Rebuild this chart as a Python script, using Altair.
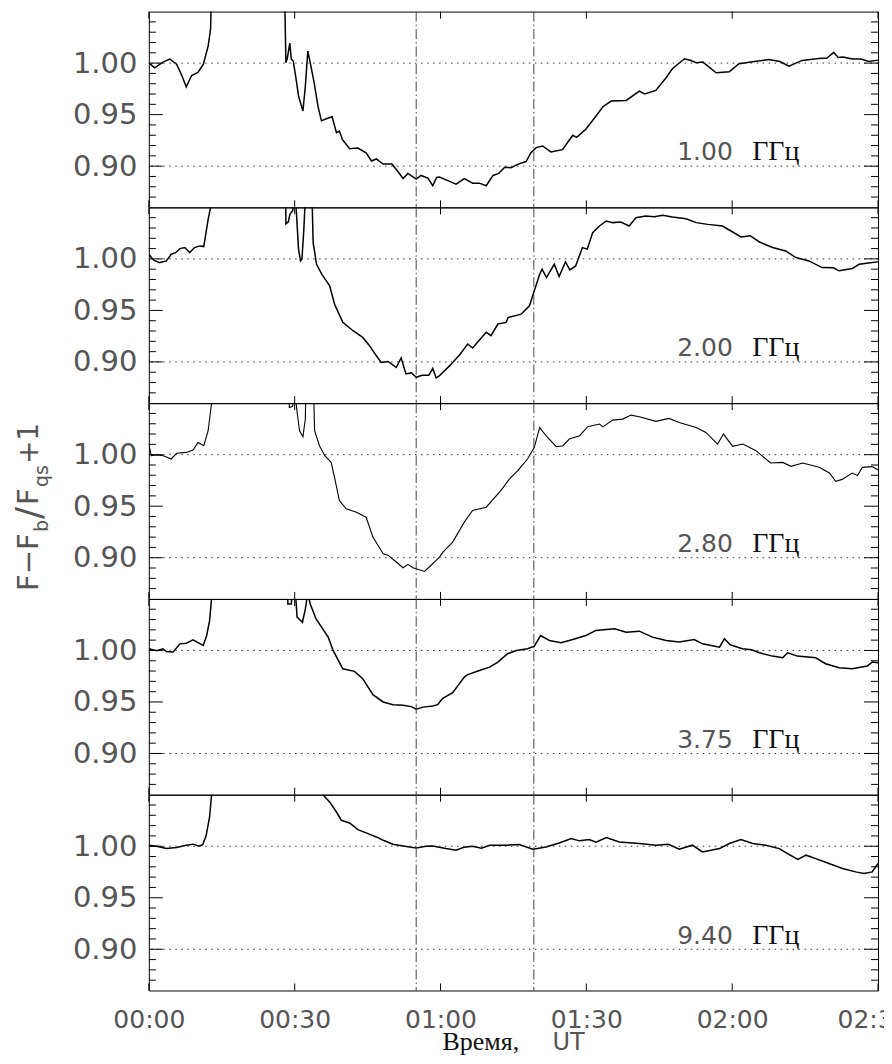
import altair as alt
import pandas as pd

# ---------------- data ----------------
freq_labels = ["1.00", "2.00", "2.80", "3.75", "9.40"]
unit_label = "ГГц"
y_major = [0.90, 0.95, 1.00]
y_minor = [0.87, 0.88, 0.89, 0.91, 0.92, 0.93, 0.94, 0.96, 0.97, 0.98, 0.99,
           1.01, 1.02, 1.03, 1.04]
x_ticks = [0, 30, 60, 90, 120, 150]          # minutes after 00:00 UT
ref_levels = [0.90, 1.00]
event_times = [55.0, 79.2]

# (minutes, F-Fb/Fqs+1); values above 1.05 are off-panel (flare)
s100 = [(0, 1.0003), (1.2, 0.9955), (2.9, 1.001), (4.3, 1.004), (5.7, 0.999), (6.7, 0.989),
        (7.7, 0.977), (8.8, 0.988), (10.1, 0.991), (11.2, 0.9987), (12.2, 1.0165), (12.7, 1.033),
        (13.3, 1.15), (27.6, 1.15), (28.2, 1.0003), (28.5, 1.005), (29.0, 1.0195), (29.3, 1.004),
        (29.7, 1.002), (30.2, 0.9874), (30.8, 0.968), (31.7, 0.9535), (32.2, 0.978), (32.7, 1.0116),
        (33.3, 0.998), (34.0, 0.981), (34.8, 0.958), (35.5, 0.944), (36.5, 0.946), (37.7, 0.948),
        (38.6, 0.9325), (39.2, 0.934), (39.8, 0.926), (41.3, 0.917), (43.0, 0.9175), (44.7, 0.913),
        (45.8, 0.905), (46.8, 0.907), (48.2, 0.902), (50.0, 0.902), (51.2, 0.895), (52.3, 0.888),
        (53.3, 0.893), (55.0, 0.8874), (56.0, 0.891), (57.4, 0.8885), (58.4, 0.881), (59.2, 0.889),
        (59.8, 0.8895), (61.5, 0.886), (63.2, 0.8825), (64.9, 0.888), (66.6, 0.8835), (68.0, 0.8835),
        (69.4, 0.881), (70.8, 0.891), (72.0, 0.893), (73.2, 0.899), (74.5, 0.8985), (76.0, 0.902),
        (77.6, 0.9045), (78.6, 0.913), (79.7, 0.918), (81.0, 0.9196), (82.7, 0.9138), (85.1, 0.916),
        (87.2, 0.930), (88.0, 0.928), (89.9, 0.9358), (92.0, 0.9487), (93.4, 0.9577), (95.1, 0.9632),
        (98.2, 0.9638), (100.9, 0.9729), (102.0, 0.970), (104.3, 0.9735), (106.4, 0.9858),
        (107.7, 0.9945), (110.2, 1.0042), (111.5, 1.0025), (112.6, 1.0003), (114.0, 1.001),
        (116.7, 0.9906), (119.4, 0.9916), (121.4, 0.9994), (124.2, 1.0013), (127.6, 1.0036),
        (129.8, 1.0015), (131.7, 0.997), (134.4, 1.0026), (137.8, 1.0045), (139.5, 1.005),
        (140.9, 1.0104), (141.8, 1.0055), (142.8, 1.006), (144.7, 1.0039), (146.5, 1.004),
        (148.1, 1.0016), (150, 1.0029)]

s200 = [(0, 1.0045), (1.0, 0.9987), (2.2, 0.9964), (3.6, 0.998), (4.6, 1.0045), (5.5, 1.006),
        (6.4, 1.010), (7.4, 1.011), (8.4, 1.0061), (9.4, 1.011), (10.5, 1.0126), (11.3, 1.012),
        (12.2, 1.0384), (12.7, 1.05), (13.1, 1.15), (27.9, 1.15), (28.2, 1.034), (28.7, 1.036),
        (29.0, 1.043), (29.6, 1.047), (30.0, 1.08), (30.3, 1.05), (30.8, 1.009), (31.2, 0.998),
        (31.5, 1.0), (31.9, 1.03), (32.3, 1.07), (32.5, 1.15), (33.1, 1.15), (33.8, 1.0158),
        (34.5, 0.9948), (35.6, 0.985), (37.2, 0.9738), (38.2, 0.9561), (39.9, 0.9384), (42.0, 0.9303),
        (44.0, 0.9238), (45.4, 0.9158), (46.4, 0.9087), (47.8, 0.8996), (49.2, 0.9005), (50.9, 0.8948),
        (51.9, 0.9038), (52.9, 0.8883), (54.0, 0.8895), (55.0, 0.8851), (56.2, 0.887), (57.6, 0.887),
        (58.4, 0.8938), (59.1, 0.8845), (59.8, 0.8867), (61.9, 0.8964), (63.9, 0.9067), (65.6, 0.9174),
        (66.6, 0.9135), (69.4, 0.9287), (70.4, 0.9255), (71.8, 0.9368), (73.5, 0.9384), (73.9, 0.9432),
        (76.6, 0.9464), (78.3, 0.9545), (79.3, 0.969), (80.4, 0.9851), (80.9, 0.99), (81.8, 0.9819),
        (83.4, 0.9948), (84.4, 0.9829), (85.7, 0.9971), (86.6, 0.9893), (87.8, 0.9932), (89.2, 1.011),
        (90.2, 1.0095), (91.3, 1.0255), (92.7, 1.0319), (94.1, 1.0368), (95.4, 1.0352), (97.1, 1.0358),
        (98.8, 1.0319), (100.2, 1.04), (102.2, 1.0416), (104.0, 1.041), (105.7, 1.0423),
        (107.7, 1.0406), (110.5, 1.039), (112.6, 1.0352), (115.0, 1.0335), (118.0, 1.0319),
        (120.1, 1.0261), (121.8, 1.0213), (123.7, 1.0225), (125.6, 1.0164), (128.3, 1.011),
        (131.0, 1.0077), (133.1, 1.0013), (135.8, 0.998), (138.5, 0.9916), (140.8, 0.9913),
        (142.0, 0.9884), (144.7, 0.9906), (146.1, 0.9948), (148.8, 0.9964), (150, 0.9971)]

s280 = [(0, 1.0103), (0.5, 0.999), (1.6, 0.9997), (3.0, 0.999), (4.6, 0.9958), (5.7, 1.0013),
        (7.7, 1.0022), (9.1, 1.0045), (10.1, 1.0119), (11.3, 1.0087), (12.2, 1.0232), (12.9, 1.05),
        (13.2, 1.15), (28.5, 1.15), (28.9, 1.0458), (29.6, 1.047), (30.0, 1.07), (30.4, 1.045),
        (31.0, 1.0232), (31.7, 1.0174), (32.2, 1.035), (32.5, 1.15), (33.4, 1.15), (34.1, 1.0232),
        (35.1, 1.0087), (36.2, 0.999), (37.5, 0.9926), (38.2, 0.978), (39.2, 0.9555), (40.6, 0.9474),
        (42.7, 0.9442), (44.7, 0.9393), (46.1, 0.92), (48.2, 0.9038), (49.2, 0.9025), (50.9, 0.8958),
        (52.3, 0.8903), (53.3, 0.8935), (54.3, 0.8903), (55.0, 0.8893), (56.7, 0.8867), (57.7, 0.891),
        (59.1, 0.8974), (59.8, 0.9006), (60.5, 0.9054), (62.5, 0.9151), (64.9, 0.9345), (66.6, 0.9458),
        (69.4, 0.949), (72.4, 0.9651), (74.2, 0.9764), (75.9, 0.9845), (77.9, 0.9958), (79.3, 1.0071),
        (80.4, 1.0265), (81.7, 1.0184), (83.8, 1.0077), (85.2, 1.0087), (86.5, 1.0152), (88.6, 1.0184),
        (90.3, 1.0271), (92.7, 1.0297), (93.4, 1.027), (95.4, 1.0335), (97.5, 1.0345), (99.2, 1.0384),
        (100.9, 1.0368), (104.3, 1.0323), (107.0, 1.0352), (109.1, 1.0313), (112.6, 1.0264),
        (114.6, 1.0216), (117.0, 1.0103), (118.2, 1.02), (120.1, 1.0081), (122.2, 1.0103),
        (124.9, 1.0039), (127.9, 0.9919), (130.4, 0.9925), (132.1, 0.9887), (134.5, 0.9919),
        (137.9, 0.9877), (140.0, 0.9822), (141.3, 0.9742), (142.6, 0.976), (144.7, 0.9822),
        (145.8, 0.9797), (146.8, 0.9877), (148.8, 0.9884), (150, 0.9851)]

s375 = [(0, 1.0016), (1.6, 0.9997), (2.9, 1.0016), (3.6, 0.999), (5.0, 0.9984), (6.4, 1.0064),
        (7.7, 1.007), (9.1, 1.0103), (10.2, 1.0074), (11.2, 1.0048), (11.9, 1.0145), (12.5, 1.029),
        (12.9, 1.05), (13.2, 1.15), (28.3, 1.15), (28.6, 1.045), (29.3, 1.045), (29.8, 1.07),
        (30.1, 1.06), (30.5, 1.0323), (31.6, 1.0274), (32.2, 1.0403), (32.7, 1.056), (33.2, 1.045),
        (34.4, 1.0306), (36.9, 1.0129), (37.9, 1.0), (39.9, 0.9822), (42.3, 0.9797), (44.0, 0.9726),
        (46.1, 0.9571), (48.2, 0.95), (50.2, 0.9474), (52.3, 0.9467), (54.0, 0.9455), (55.0, 0.9429),
        (56.4, 0.945), (58.4, 0.9461), (59.4, 0.9474), (60.4, 0.9532), (62.5, 0.959), (64.9, 0.9742),
        (65.6, 0.9765), (68.0, 0.9806), (70.1, 0.9838), (71.8, 0.9887), (73.8, 0.9968), (75.6, 1.0),
        (77.9, 1.0016), (79.3, 1.0042), (80.6, 1.0145), (82.4, 1.0097), (84.8, 1.0074), (87.2, 1.0106),
        (89.9, 1.0145), (92.0, 1.0194), (94.1, 1.0203), (95.8, 1.021), (98.2, 1.0177), (100.9, 1.0187),
        (103.6, 1.0129), (106.4, 1.0097), (109.1, 1.0081), (112.2, 1.0106), (113.9, 1.0064),
        (117.4, 1.0032), (118.4, 1.0113), (119.6, 1.0055), (122.1, 1.0016), (124.0, 1.0006),
        (125.6, 0.9977), (128.3, 0.9945), (130.4, 0.9929), (131.4, 0.9977), (133.4, 0.9945),
        (137.2, 0.9929), (139.2, 0.9871), (142.0, 0.9832), (144.7, 0.9823), (147.8, 0.9848),
        (148.8, 0.9887), (150, 0.988)]

s940 = [(0, 1.001), (1.6, 1.0), (3.6, 0.9977), (5.7, 0.9987), (7.7, 1.001), (9.1, 1.002),
        (10.3, 1.0), (11.1, 1.0016), (11.8, 1.0106), (12.5, 1.0284), (12.9, 1.05), (13.2, 1.15),
        (35.5, 1.15), (35.8, 1.05), (37.2, 1.0429), (38.6, 1.0332), (39.6, 1.0252), (41.3, 1.0226),
        (43.0, 1.0161), (44.7, 1.0129), (46.8, 1.009), (48.2, 1.0058), (50.2, 1.0019), (52.3, 1.0003),
        (55.0, 0.9984), (57.0, 1.0), (58.4, 1.0003), (61.1, 0.9977), (63.2, 0.9961), (64.8, 0.999),
        (66.6, 1.0), (68.4, 0.998), (70.1, 1.001), (73.5, 1.001), (76.2, 1.0016), (79.0, 0.9971),
        (81.7, 0.9993), (84.4, 1.0032), (86.9, 1.0074), (88.6, 1.0052), (90.6, 1.0064), (92.0, 1.004),
        (94.1, 1.0084), (96.8, 1.0042), (100.9, 1.0026), (104.3, 1.001), (106.9, 1.0019),
        (109.1, 0.9971), (111.8, 1.001), (113.9, 0.9945), (117.4, 0.9977), (119.4, 1.0026),
        (121.8, 1.0064), (124.2, 1.0026), (126.9, 1.001), (129.7, 0.9977), (131.4, 0.9929),
        (133.5, 0.9871), (135.2, 0.9913), (137.2, 0.988), (139.9, 0.9832), (142.7, 0.9784),
        (145.4, 0.9751), (147.1, 0.9735), (148.8, 0.9751), (150, 0.9832)]

series = [s100, s200, s280, s375, s940]

y_title_parts = ["F−F", "b", "/", "F", "qs", "+1"]
x_title_parts = ["Время,", "UT"]

# ---------------- styling / layout ----------------
W, H = 730, 196
SANS = "DejaVu Sans"
SERIF = "Liberation Serif"
GREY = "#555555"
line_widths = [1.5, 1.5, 1.1, 1.5, 1.5]

xscale = alt.Scale(domain=[0, 150], nice=False, zero=False)
yscale = alt.Scale(domain=[0.86, 1.05], nice=False, zero=False)

x_label_expr = "'0' + floor(datum.value / 60) + ':' + (datum.value % 60 == 0 ? '00' : datum.value % 60)"


def one_row(**kw):
    return pd.DataFrame({k: [v] for k, v in kw.items()})


def panel(i):
    bottom = i == len(series) - 1
    df = pd.DataFrame(series[i], columns=["t", "v"])
    if bottom:
        xaxis = alt.Axis(values=x_ticks, labelExpr=x_label_expr, ticks=False, domain=False,
                         grid=False, labelPadding=17, labelFontSize=25, labelFont=SANS,
                         labelColor=GREY, labelFlush=False, labelOverlap=False, title=None,
                         labelOffset={"condition": {"test": "datum.value == 150", "value": -5},
                                      "value": 0})
    else:
        xaxis = None
    yaxis = alt.Axis(values=y_major, format=".2f", ticks=False, domain=False, grid=False,
                     labelPadding=12, labelFontSize=29, labelFont=SANS, labelColor=GREY,
                     title=None)

    def X(field):
        return alt.X(field, scale=xscale, axis=xaxis)

    def Y(field):
        return alt.Y(field, scale=yscale, axis=yaxis)

    line = alt.Chart(df).mark_line(color="black", strokeWidth=line_widths[i], clip=True).encode(
        x=X("t:Q"), y=Y("v:Q"))

    lev = pd.DataFrame({"y": ref_levels})
    dotted = alt.Chart(lev).mark_rule(color="#333333", strokeWidth=1, strokeDash=[1.5, 4.5]).encode(
        y=Y("y:Q"))

    ev = pd.DataFrame({"t": event_times})
    dashdot = alt.Chart(ev).mark_rule(color="#444444", strokeWidth=1, strokeDash=[10, 3, 1.5, 3]).encode(
        x=X("t:Q"))

    ymin = pd.DataFrame({"y": y_minor})
    ymaj = pd.DataFrame({"y": y_major})
    xt = pd.DataFrame({"t": x_ticks})
    tick = dict(color="black", strokeWidth=1)
    ticks = [
        alt.Chart(ymin).mark_rule(**tick).encode(y=Y("y:Q"), x=alt.value(0), x2=alt.value(7)),
        alt.Chart(ymin).mark_rule(**tick).encode(y=Y("y:Q"), x=alt.value(W - 7), x2=alt.value(W)),
        alt.Chart(ymaj).mark_rule(**tick).encode(y=Y("y:Q"), x=alt.value(0), x2=alt.value(14)),
        alt.Chart(ymaj).mark_rule(**tick).encode(y=Y("y:Q"), x=alt.value(W - 14), x2=alt.value(W)),
        alt.Chart(xt).mark_rule(**tick).encode(x=X("t:Q"), y=alt.value(0), y2=alt.value(7)),
        alt.Chart(xt).mark_rule(**tick).encode(x=X("t:Q"), y=alt.value(H - 7), y2=alt.value(H)),
    ]

    num = alt.Chart(one_row(label=freq_labels[i])).mark_text(
        align="left", baseline="alphabetic", font=SANS, fontSize=25, color=GREY).encode(
        text="label:N", x=alt.value(529), y=alt.value(149))
    unit = alt.Chart(one_row(label=unit_label)).mark_text(
        align="left", baseline="alphabetic", font=SERIF, fontSize=28, color="#111111").encode(
        text="label:N", x=alt.value(604), y=alt.value(149))

    layers = [line, dotted, dashdot] + ticks + [num, unit]

    if i == 2:  # y-axis title, built from pieces (subscripts)
        pos = [(-110.7, 188, 29), (-100.5, 129, 19), (-108.0, 116, 36), (-110.7, 102, 29),
               (-100.5, 84, 19), (-110.7, 61, 28)]
        for txt, (px, py, fs) in zip(y_title_parts, pos):
            layers.append(alt.Chart(one_row(label=txt)).mark_text(
                align="left", baseline="alphabetic", angle=270, font=SANS, fontSize=fs,
                color=GREY).encode(text="label:N", x=alt.value(px), y=alt.value(py)))
    if bottom:  # x-axis title: serif Cyrillic + sans "UT"
        layers.append(alt.Chart(one_row(label=x_title_parts[0])).mark_text(
            align="left", baseline="alphabetic", font=SERIF, fontSize=26, color="#111111").encode(
            text="label:N", x=alt.value(294), y=alt.value(256)))
        layers.append(alt.Chart(one_row(label=x_title_parts[1])).mark_text(
            align="left", baseline="alphabetic", font=SANS, fontSize=24, color=GREY).encode(
            text="label:N", x=alt.value(404), y=alt.value(256)))

    return alt.layer(*layers).properties(width=W, height=H)


chart = alt.vconcat(*[panel(i) for i in range(len(series))], spacing=0, bounds="flush").properties(
    padding={"left": 3, "top": 2, "right": -26, "bottom": -2}
).configure_view(stroke="black", strokeWidth=1)

chart.save("out.html", embed_options={"renderer": "svg", "actions": False})
